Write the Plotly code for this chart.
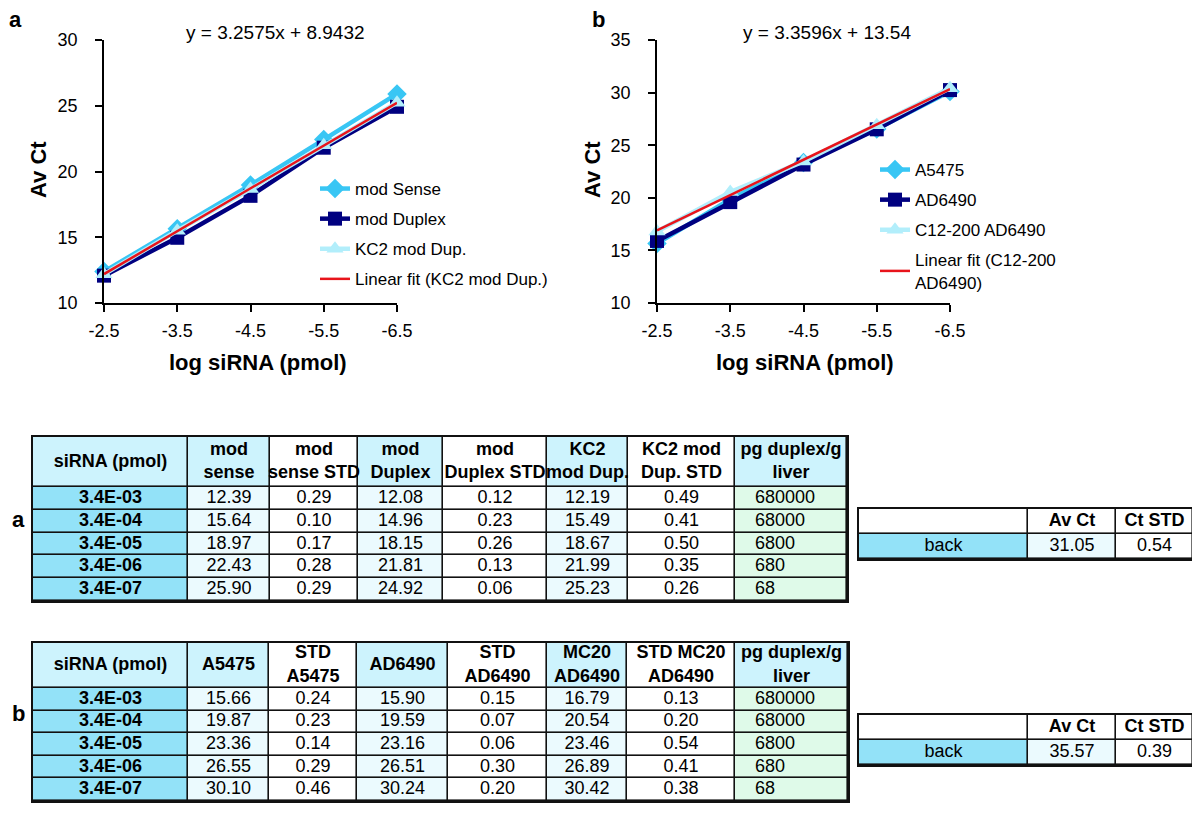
import plotly.graph_objects as go

W, H = 1200, 817
OX, OY = 8, 8  # page body margin compensation
FONT = "Liberation Sans"

# ---------------- data ----------------
x_vals = [-2.5, -3.5, -4.5, -5.5, -6.5]
x_ticktext = ["-2.5", "-3.5", "-4.5", "-5.5", "-6.5"]
fit_index = [1, 2, 3, 4, 5]

a_mod_sense = [12.39, 15.64, 18.97, 22.43, 25.90]
a_mod_sense_std = [0.29, 0.10, 0.17, 0.28, 0.29]
a_mod_duplex = [12.08, 14.96, 18.15, 21.81, 24.92]
a_mod_duplex_std = [0.12, 0.23, 0.26, 0.13, 0.06]
a_kc2 = [12.19, 15.49, 18.67, 21.99, 25.23]
a_kc2_std = [0.49, 0.41, 0.50, 0.35, 0.26]
a_slope, a_intercept = 3.2575, 8.9432
a_eq = "y = 3.2575x + 8.9432"

b_a5475 = [15.66, 19.87, 23.36, 26.55, 30.10]
b_a5475_std = [0.24, 0.23, 0.14, 0.29, 0.46]
b_ad6490 = [15.90, 19.59, 23.16, 26.51, 30.24]
b_ad6490_std = [0.15, 0.07, 0.06, 0.30, 0.20]
b_mc20 = [16.79, 20.54, 23.46, 26.89, 30.42]
b_mc20_std = [0.13, 0.20, 0.54, 0.41, 0.38]
b_slope, b_intercept = 3.3596, 13.54
b_eq = "y = 3.3596x + 13.54"

sirna = ["3.4E-03", "3.4E-04", "3.4E-05", "3.4E-06", "3.4E-07"]
pg_liver = [680000, 68000, 6800, 680, 68]

back_a = [31.05, 0.54]
back_b = [35.57, 0.39]

a_headers = ["siRNA (pmol)", "mod<br>sense", "mod<br>sense STD", "mod<br>Duplex",
             "mod<br>Duplex STD", "KC2<br>mod Dup.", "KC2 mod<br>Dup. STD", "pg duplex/g<br>liver"]
b_headers = ["siRNA (pmol)", "A5475", "STD<br>A5475", "AD6490",
             "STD<br>AD6490", "MC20<br>AD6490", "STD MC20<br>AD6490", "pg duplex/g<br>liver"]
back_headers = ["", "Av Ct", "Ct STD"]
back_label = "back"

# ---------------- colours ----------------
C_SENSE = "#38C6F4"
C_NAVY = "#000080"
C_PALE = "#B2EEFB"
C_RED = "#E8141B"
PALETTE = ["#FFFFFF", "#CDF3FD", "#EBFAFE", "#93E2F8", "#DFFAE9"]  # white, head, light, mid, green
WHITE, HEAD, LIGHT, MID, GREEN = range(5)
PAL_SCALE = [[i / (len(PALETTE) - 1), c] for i, c in enumerate(PALETTE)]


def px(x):
    return (x - OX) / W


def py(y):
    return (H - (y - OY)) / H


fig = go.Figure()


def fit_line(slope, intercept):
    return [slope * i + intercept for i in fit_index]


def series(x, y, name, color, symbol, msize, xa, ya, leg, width=4.5):
    return go.Scatter(x=x, y=y, name=name, mode="lines+markers",
                      line=dict(color=color, width=width),
                      marker=dict(symbol=symbol, size=msize, color=color),
                      xaxis=xa, yaxis=ya, legend=leg, legendgroup=name,
                      cliponaxis=False)


# chart a
fig.add_trace(series(x_vals, a_mod_sense, "mod Sense", C_SENSE, "diamond", 15, "x", "y", "legend"))
fig.add_trace(series(x_vals, a_mod_duplex, "mod Duplex", C_NAVY, "square", 14, "x", "y", "legend"))
fig.add_trace(series(x_vals, a_kc2, "KC2 mod Dup.", C_PALE, "triangle-up", 15, "x", "y", "legend"))
fig.add_trace(go.Scatter(x=x_vals, y=fit_line(a_slope, a_intercept), name="Linear fit (KC2 mod Dup.)",
                         mode="lines", line=dict(color=C_RED, width=2.5), xaxis="x", yaxis="y",
                         legend="legend", legendgroup="fa", cliponaxis=False))

# chart b
fig.add_trace(series(x_vals, b_a5475, "A5475", C_SENSE, "diamond", 15, "x2", "y2", "legend2"))
fig.add_trace(series(x_vals, b_ad6490, "AD6490", C_NAVY, "square", 14, "x2", "y2", "legend2"))
fig.add_trace(series(x_vals, b_mc20, "C12-200 AD6490", C_PALE, "triangle-up", 15, "x2", "y2", "legend2"))
fig.add_trace(go.Scatter(x=x_vals, y=fit_line(b_slope, b_intercept), name="Linear fit (C12-200<br>AD6490)",
                         mode="lines", line=dict(color=C_RED, width=2.5), xaxis="x2", yaxis="y2",
                         legend="legend2", legendgroup="fb", cliponaxis=False))


def fmt(v):
    return [f"{x:.2f}" for x in v]


def cumulative(sizes):
    edges = [0]
    for s in sizes:
        edges.append(edges[-1] + s)
    return edges


def add_table(n, header, columns, header_codes, body_codes, col_w, row_h, left_pad_cols=(), pad=20):
    """Draw a table as a heatmap of cells on axes n, with texts as a text scatter."""
    xa, ya = f"x{n}", f"y{n}"
    xe = cumulative(col_w)
    ye = cumulative(row_h)
    nrows = len(row_h)
    z = [header_codes] + [body_codes] * (nrows - 1)
    # dark base showing through the gaps = cell borders
    fig.add_trace(go.Heatmap(x=[xe[0], xe[-1]], y=[ye[0], ye[-1]], z=[[0]],
                             colorscale=[[0, "#111111"], [1, "#111111"]], showscale=False,
                             hoverinfo="skip", xaxis=xa, yaxis=ya))
    fig.add_trace(go.Heatmap(x=xe, y=ye, z=z, zmin=0, zmax=len(PALETTE) - 1, colorscale=PAL_SCALE,
                             showscale=False, xgap=1.6, ygap=1.6, hoverinfo="skip", xaxis=xa, yaxis=ya))
    tx, ty, tt, tp = [], [], [], []
    rows = [header] + [list(r) for r in zip(*columns)]
    for ri, row in enumerate(rows):
        yc = (ye[ri] + ye[ri + 1]) / 2
        for ci, val in enumerate(row):
            if ri > 0 and ci in left_pad_cols:
                tx.append(xe[ci] + pad)
                tp.append("middle right")
            else:
                tx.append((xe[ci] + xe[ci + 1]) / 2)
                tp.append("middle center")
            ty.append(yc)
            tt.append(f"<b>{val}</b>" if (ri == 0 or (ci == 0 and val != back_label)) else str(val))
    fig.add_trace(go.Scatter(x=tx, y=ty, text=tt, mode="text", textposition=tp,
                             textfont=dict(family=FONT, size=18, color="black"),
                             hoverinfo="skip", showlegend=False, xaxis=xa, yaxis=ya, cliponaxis=False))


head_codes_big = [HEAD, HEAD, WHITE, HEAD, WHITE, HEAD, WHITE, HEAD]
body_codes_big = [MID, LIGHT, WHITE, LIGHT, WHITE, LIGHT, WHITE, GREEN]

cols_a = [sirna, fmt(a_mod_sense), fmt(a_mod_sense_std), fmt(a_mod_duplex), fmt(a_mod_duplex_std),
          fmt(a_kc2), fmt(a_kc2_std), [str(p) for p in pg_liver]]
cols_b = [sirna, fmt(b_a5475), fmt(b_a5475_std), fmt(b_ad6490), fmt(b_ad6490_std),
          fmt(b_mc20), fmt(b_mc20_std), [str(p) for p in pg_liver]]

colw_a = [155, 82, 88, 85, 104, 81, 107, 112]
colw_b = [155, 81, 88, 91, 99, 80, 108, 113]
rowh_a = [50] + [22.8] * 5
rowh_b = [45] + [22.6] * 5
colw_back = [169, 88, 77]
rowh_back = [25, 25]

add_table(3, a_headers, cols_a, head_codes_big, body_codes_big, colw_a, rowh_a, left_pad_cols=(7,))
add_table(4, b_headers, cols_b, head_codes_big, body_codes_big, colw_b, rowh_b, left_pad_cols=(7,))
add_table(5, back_headers, [[back_label], [f"{back_a[0]:.2f}"], [f"{back_a[1]:.2f}"]],
          [WHITE, WHITE, WHITE], [MID, LIGHT, WHITE], colw_back, rowh_back)
add_table(6, back_headers, [[back_label], [f"{back_b[0]:.2f}"], [f"{back_b[1]:.2f}"]],
          [WHITE, WHITE, WHITE], [MID, LIGHT, WHITE], colw_back, rowh_back)

# ---------------- axes ----------------
ax_common = dict(showline=True, linecolor="black", linewidth=1.5, ticks="outside", ticklen=7,
                 tickcolor="black", tickwidth=1.5, showgrid=False, zeroline=False, automargin=False,
                 tickfont=dict(family=FONT, size=18, color="black"))

ytop, ybot = 40, 303
ydom = [py(ybot), py(ytop)]


def tbl_axes(left, right, top, col_w, row_h):
    tot_w = sum(col_w)
    tot_h = sum(row_h)
    common = dict(showline=True, mirror=True, linecolor="#111111", linewidth=1.5, showgrid=False,
                  zeroline=False, showticklabels=False, ticks="", automargin=False, fixedrange=True)
    xd = dict(domain=[px(left), px(right)], range=[0, tot_w], **common)
    yd = dict(domain=[py(top + tot_h), py(top)], range=[tot_h, 0], **common)
    return xd, yd


x3, y3 = tbl_axes(33, 847, 437, colw_a, rowh_a)
x4, y4 = tbl_axes(33, 848, 643, colw_b, rowh_b)
x5, y5 = tbl_axes(859, 1193, 509, colw_back, rowh_back)
x6, y6 = tbl_axes(859, 1193, 715, colw_back, rowh_back)
for i, (xd, yd) in zip([3, 4, 5, 6], [(x3, y3), (x4, y4), (x5, y5), (x6, y6)]):
    xd["anchor"] = f"y{i}"
    yd["anchor"] = f"x{i}"

fig.update_layout(
    width=W, height=H, autosize=False,
    margin=dict(l=0, r=0, t=0, b=0, pad=0, autoexpand=False),
    paper_bgcolor="white", plot_bgcolor="white",
    font=dict(family=FONT, color="black"),
    xaxis=dict(domain=[px(104), px(397)], range=[-2.5, -6.5], tickvals=x_vals, ticktext=x_ticktext,
               anchor="y", ticklabelstandoff=4, **ax_common),
    yaxis=dict(domain=ydom, range=[10, 30], dtick=5, anchor="x", ticklabelstandoff=14, **ax_common),
    xaxis2=dict(domain=[px(657), px(950)], range=[-2.5, -6.5], tickvals=x_vals, ticktext=x_ticktext,
                anchor="y2", ticklabelstandoff=4, **ax_common),
    yaxis2=dict(domain=ydom, range=[10, 35], dtick=5, anchor="x2", ticklabelstandoff=14, **ax_common),
    xaxis3=x3, yaxis3=y3, xaxis4=x4, yaxis4=y4, xaxis5=x5, yaxis5=y5, xaxis6=x6, yaxis6=y6,
    legend=dict(x=px(315), y=py(171), xanchor="left", yanchor="top",
                font=dict(family=FONT, size=17, color="black"), bgcolor="rgba(0,0,0,0)",
                tracegroupgap=5),
    legend2=dict(x=px(875), y=py(152), xanchor="left", yanchor="top",
                 font=dict(family=FONT, size=17, color="black"), bgcolor="rgba(0,0,0,0)",
                 tracegroupgap=5),
)

ann = []


def txt(x, y, s, size, bold=False, angle=0, xanchor="center"):
    ann.append(dict(x=px(x), y=py(y), xref="paper", yref="paper", showarrow=False,
                    text=f"<b>{s}</b>" if bold else s, textangle=angle, xanchor=xanchor, yanchor="middle",
                    font=dict(family=FONT, size=size, color="black")))


txt(15, 20, "a", 22, True)
txt(598, 20, "b", 22, True)
txt(275, 33, a_eq, 19)
txt(827, 33, b_eq, 19)
txt(38, 170, "Av Ct", 22, True, -90)
txt(592, 170, "Av Ct", 22, True, -90)
txt(258, 362, "log siRNA (pmol)", 22, True)
txt(805, 362, "log siRNA (pmol)", 22, True)
txt(18, 520, "a", 22, True)
txt(18, 713, "b", 22, True)
fig.update_layout(annotations=ann)

fig.write_html("out.html")
